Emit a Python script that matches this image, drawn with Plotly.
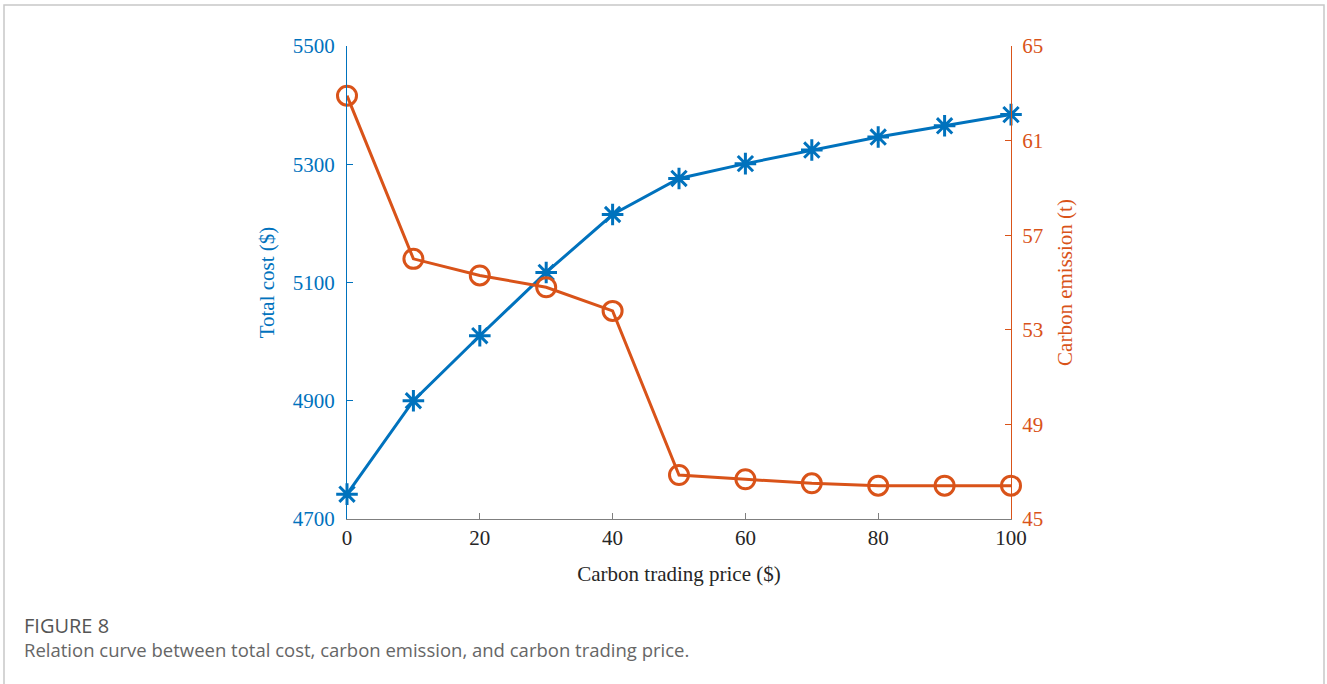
import plotly.graph_objects as go

price = [0, 10, 20, 30, 40, 50, 60, 70, 80, 90, 100]
total_cost = [4742, 4900, 5010, 5117, 5215, 5276, 5301, 5324, 5346, 5365, 5384]
carbon_emission = [62.9, 56.0, 55.3, 54.8, 53.8, 46.86, 46.68, 46.51, 46.41, 46.41, 46.41]

x_ticks = [0, 20, 40, 60, 80, 100]
left_ticks = [4700, 4900, 5100, 5300, 5500]
right_ticks = [45, 49, 53, 57, 61, 65]

BLUE = "#0072BD"
ORANGE = "#D95319"
SERIF = "Liberation Serif, Times New Roman, serif"

fig = go.Figure()
fig.add_trace(go.Scatter(
    x=price, y=total_cost, mode="lines+markers", yaxis="y",
    line=dict(color=BLUE, width=3),
    marker=dict(symbol="asterisk-open", size=18, color=BLUE, line=dict(color=BLUE, width=3)),
    showlegend=False, cliponaxis=False))
fig.add_trace(go.Scatter(
    x=price, y=carbon_emission, mode="lines+markers", yaxis="y2",
    line=dict(color=ORANGE, width=3),
    marker=dict(symbol="circle-open", size=19, color=ORANGE, line=dict(color=ORANGE, width=3)),
    showlegend=False, cliponaxis=False))

L, R, T, B = 347, 316, 46, 165
W, H = 1327, 684
pw, ph = W - L - R, H - T - B

def px(x):
    return (x - L) / pw

def py(y):
    return (H - B - y) / ph

fig.update_layout(
    width=W, height=H,
    margin=dict(l=L, r=R, t=T, b=B),
    paper_bgcolor="white", plot_bgcolor="white",
    xaxis=dict(range=[0, 100], tickvals=x_ticks, ticks="inside", ticklen=6,
               tickcolor="#7f7f7f", showline=True, linecolor="#7f7f7f", linewidth=1,
               showgrid=False, zeroline=False,
               tickfont=dict(family=SERIF, size=21, color="#262626"),
               title=dict(text="Carbon trading price ($)", standoff=17,
                          font=dict(family=SERIF, size=21, color="#262626"))),
    yaxis=dict(range=[4700, 5500], tickvals=left_ticks, ticks="inside", ticklen=6,
               tickcolor=BLUE, showline=True, linecolor=BLUE, linewidth=1,
               showgrid=False, zeroline=False, ticklabelstandoff=7,
               tickfont=dict(family=SERIF, size=21, color=BLUE),
               title=dict(text="Total cost ($)", standoff=12,
                          font=dict(family=SERIF, size=21, color=BLUE))),
    yaxis2=dict(range=[45, 65], tickvals=right_ticks, ticks="inside", ticklen=6,
                tickcolor=ORANGE, showline=True, linecolor=ORANGE, linewidth=1,
                showgrid=False, zeroline=False, overlaying="y", side="right",
                ticklabelstandoff=6,
                tickfont=dict(family=SERIF, size=21, color=ORANGE),
                title=dict(text="Carbon emission (t)", standoff=15,
                           font=dict(family=SERIF, size=21, color=ORANGE))),
    shapes=[dict(type="rect", xref="paper", yref="paper",
                 x0=px(4), x1=px(1324), y0=py(695), y1=py(5),
                 line=dict(color="#c8c8c8", width=1.5), fillcolor="rgba(0,0,0,0)", layer="below")],
    annotations=[
        dict(text="FIGURE 8", xref="paper", yref="paper", x=px(22), y=py(625),
             xanchor="left", yanchor="middle", showarrow=False,
             font=dict(family="Open Sans", size=20, color="#555555", weight=500)),
        dict(text="Relation curve between total cost, carbon emission, and carbon trading price.",
             xref="paper", yref="paper", x=px(22), y=py(649),
             xanchor="left", yanchor="middle", showarrow=False,
             font=dict(family="Open Sans", size=18.5, color="#666666")),
    ],
)

fig.write_html("out.html")
